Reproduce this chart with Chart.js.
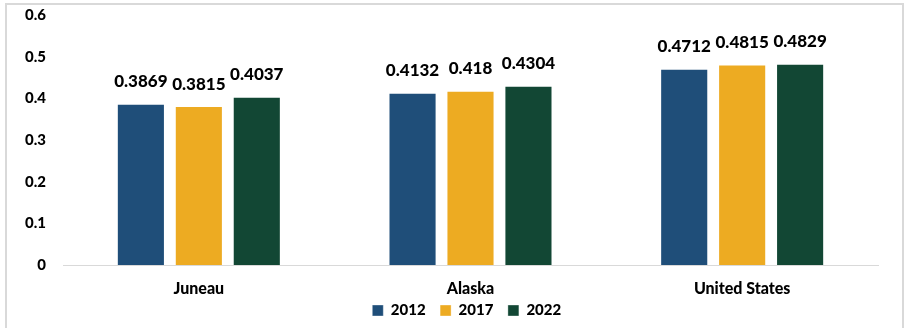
<!DOCTYPE html>
<html lang="en">
<head>
    <title>Gini Index Chart</title>
    <script src="https://cdn.jsdelivr.net/npm/chart.js"></script>
    <style>
        body {
            margin: 0;
            background: #ffffff;
        }
        /* light grey frame like the original graphic */
        .frame {
            position: absolute;
            left: 5px;
            top: 3px;
            width: 899px;
            height: 340px;
            border: 2px solid #d9d9d9;
            box-sizing: border-box;
        }
        .chart-container {
            position: absolute;
            left: 0;
            top: 0;
            width: 910px;
            height: 328px;
        }
        canvas {
            display: block;
        }
    </style>
</head>
<body>
    <div class="frame"></div>
    <div class="chart-container">
        <canvas id="myChart"></canvas>
    </div>

    <script>
        const categories = ["Juneau", "Alaska", "United States"];
        const years = ["2012", "2017", "2022"];
        const values2012 = [0.3869, 0.4132, 0.4712];
        const values2017 = [0.3815, 0.418, 0.4815];
        const values2022 = [0.4037, 0.4304, 0.4829];
        const yTicks = [0, 0.1, 0.2, 0.3, 0.4, 0.5, 0.6];

        const colors = ["#1f4e79", "#edab22", "#124734"];
        const fontFamily = "Lato, 'Open Sans', sans-serif";
        const heavy = 900;

        // writes the value above every bar
        const valueLabels = {
            id: "valueLabels",
            afterDatasetsDraw(chart) {
                const ctx = chart.ctx;
                ctx.save();
                ctx.font = heavy + " 17px " + fontFamily;
                ctx.fillStyle = "#000000";
                ctx.textAlign = "center";
                ctx.textBaseline = "middle";
                chart.data.datasets.forEach((ds, i) => {
                    chart.getDatasetMeta(i).data.forEach((bar, j) => {
                        ctx.fillText(String(ds.data[j]), bar.x, bar.y - 22);
                    });
                });
                ctx.restore();
            }
        };

        function createChart() {
            const ctx = document.getElementById("myChart").getContext("2d");
            const series = [values2012, values2017, values2022];
            new Chart(ctx, {
                type: "bar",
                data: {
                    labels: categories,
                    datasets: series.map((vals, i) => ({
                        label: years[i],
                        data: vals,
                        backgroundColor: colors[i],
                        borderColor: "rgba(255,255,255,0.35)",
                        borderWidth: 1,
                        barPercentage: 0.83,
                        categoryPercentage: 0.64
                    }))
                },
                options: {
                    responsive: true,
                    maintainAspectRatio: false,
                    animation: false,
                    layout: {
                        padding: { top: 15, right: 32, bottom: 0, left: 0 }
                    },
                    plugins: {
                        legend: {
                            position: "bottom",
                            fullSize: false,
                            labels: {
                                boxWidth: 11,
                                boxHeight: 11,
                                padding: 7,
                                color: "#000000",
                                font: { family: fontFamily, size: 15, weight: heavy },
                                // trailing space widens the gap between items
                                generateLabels(chart) {
                                    return Chart.defaults.plugins.legend.labels.generateLabels(chart)
                                        .map(item => Object.assign(item, { text: item.text + "\u2002" }));
                                }
                            }
                        },
                        tooltip: { enabled: false }
                    },
                    scales: {
                        x: {
                            afterFit(scale) {
                                scale.height = 31;
                                scale.paddingLeft = 0;
                                scale.paddingRight = 0;
                            },
                            grid: { display: false, drawTicks: false },
                            border: { display: true, color: "#d9d9d9", width: 1 },
                            ticks: {
                                padding: 14,
                                color: "#000000",
                                font: { family: fontFamily, size: 16, weight: heavy }
                            }
                        },
                        y: {
                            min: 0,
                            max: 0.6,
                            afterFit(scale) {
                                scale.width = 63;
                                scale.paddingTop = 0;
                                scale.paddingBottom = 0;
                            },
                            afterBuildTicks(scale) {
                                scale.ticks = yTicks.map(v => ({ value: v }));
                            },
                            grid: { display: false, drawTicks: false },
                            border: { display: false },
                            ticks: {
                                padding: 17,
                                color: "#000000",
                                font: { family: fontFamily, size: 15, weight: heavy },
                                callback: v => String(Math.round(v * 10) / 10)
                            }
                        }
                    }
                },
                plugins: [valueLabels]
            });
        }

        createChart();
    </script>
</body>
</html>
